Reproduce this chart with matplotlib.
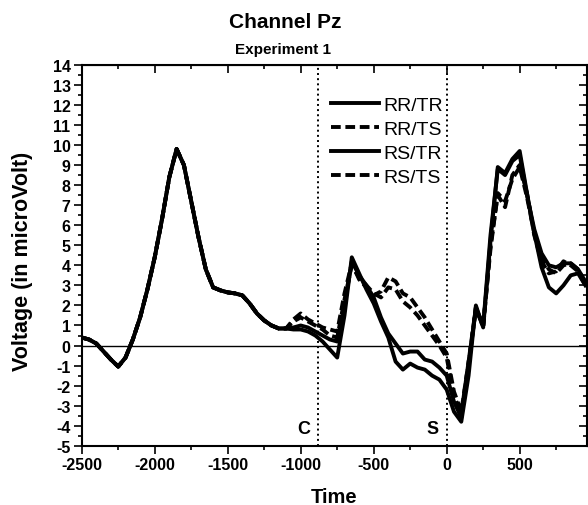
import matplotlib
matplotlib.use('Agg')
import matplotlib.pyplot as plt
from matplotlib.ticker import MultipleLocator

plt.rcParams['font.family'] = ['Liberation Sans', 'DejaVu Sans']
plt.rcParams['font.weight'] = 'bold'
plt.rcParams['axes.unicode_minus'] = False

# time axis (ms), common part before the conditions split
early_time = list(range(-2500, -1100 + 1, 50))
early_vals = [0.4, 0.3, 0.1, -0.3, -0.7, -1.05, -0.6, 0.3, 1.4, 2.8, 4.4, 6.3,
              8.4, 9.8, 9.0, 7.2, 5.4, 3.8, 2.9, 2.75, 2.65, 2.6, 2.5, 2.1,
              1.6, 1.25, 1.0, 0.85, 0.85]

late_time = list(range(-1050, 950 + 1, 50))
rr_tr = [0.9, 1.0, 0.9, 0.7, 0.5, 0.3, 0.2, 2.0, 4.2, 3.5, 3.0, 2.4, 1.4, 0.6,
         0.1, -0.4, -0.3, -0.3, -0.7, -0.8, -1.1, -1.5, -2.8, -3.6, -1.0, 1.9,
         1.0, 5.5, 8.8, 8.5, 9.2, 9.5, 7.5, 5.8, 4.6, 4.0, 3.9, 4.1, 4.1, 3.8, 3.2]
rr_ts = [1.2, 1.4, 1.2, 1.0, 0.8, 0.5, 0.4, 2.3, 4.0, 3.4, 3.0, 2.6, 2.4, 2.9,
         2.8, 2.2, 1.9, 1.5, 1.0, 0.5, 0.0, -0.6, -2.5, -3.4, -0.8, 1.9,
         0.9, 5.0, 7.5, 6.9, 8.5, 9.0, 7.6, 5.5, 4.2, 3.6, 3.7, 4.2, 4.0, 3.7, 3.0]
rs_tr = [0.8, 0.8, 0.7, 0.5, 0.2, -0.2, -0.6, 1.5, 4.4, 3.6, 2.8, 2.1, 1.2, 0.4,
         -0.8, -1.2, -0.9, -1.1, -1.2, -1.5, -1.7, -2.2, -3.3, -3.8, -1.5, 2.0,
         0.9, 5.2, 8.9, 8.6, 9.3, 9.7, 7.6, 5.6, 3.9, 2.9, 2.6, 3.0, 3.5, 3.6, 3.0]
rs_ts = [1.3, 1.6, 1.3, 1.1, 0.9, 0.8, 0.7, 2.6, 4.1, 3.3, 2.9, 2.5, 2.7, 3.4,
         3.2, 2.6, 2.4, 1.9, 1.4, 0.8, 0.2, -0.4, -2.3, -3.3, -0.8, 1.8,
         1.0, 4.8, 7.6, 7.2, 8.3, 8.9, 7.4, 5.6, 4.4, 3.8, 3.6, 4.0, 4.1, 3.8, 3.1]

cue_time = -880
stim_time = 0

time = early_time + late_time
series = [('RR/TR', rr_tr, '-'), ('RR/TS', rr_ts, '--'),
          ('RS/TR', rs_tr, '-'), ('RS/TS', rs_ts, '--')]

fig = plt.figure(figsize=(5.88, 5.06), dpi=100)
ax = fig.add_axes([0.139, 0.117, 0.859, 0.753])

for name, vals, ls in series:
    line, = ax.plot(time, early_vals + vals, color='black', lw=2.8, ls=ls, label=name)
    if ls == '--':
        line.set_dashes((2.5, 1.2))

ax.axhline(0, color='black', lw=1)
ax.axvline(cue_time, color='black', lw=1.4, ls=':')
ax.axvline(stim_time, color='black', lw=1.4, ls=':')
ax.text(-980, -4.15, 'C', fontsize=13, ha='center', va='center')
ax.text(-95, -4.15, 'S', fontsize=13, ha='center', va='center')

ax.set_xlim(-2500, 960)
ax.set_ylim(-5, 14)
ax.xaxis.set_major_locator(MultipleLocator(500))
ax.xaxis.set_minor_locator(MultipleLocator(250))
ax.yaxis.set_major_locator(MultipleLocator(1))
ax.yaxis.set_minor_locator(MultipleLocator(0.5))
ax.tick_params(which='both', direction='out', width=1.2, labelsize=11.5, pad=2)
ax.tick_params(which='major', length=6)
ax.tick_params(which='minor', length=3)
for sp in ax.spines.values():
    sp.set_linewidth(1.5)

# inward ticks on the top and right edges
top = ax.secondary_xaxis('top')
top.xaxis.set_major_locator(MultipleLocator(500))
top.xaxis.set_minor_locator(MultipleLocator(250))
top.tick_params(which='both', direction='in', labeltop=False, width=1.2)
top.tick_params(which='major', length=6)
top.tick_params(which='minor', length=3)
right = ax.secondary_yaxis('right')
right.yaxis.set_major_locator(MultipleLocator(1))
right.yaxis.set_minor_locator(MultipleLocator(0.5))
right.tick_params(which='both', direction='in', labelright=False, width=1.2)
right.tick_params(which='major', length=6)
right.tick_params(which='minor', length=3)

ax.set_xlabel('Time', fontsize=14.5, fontweight='bold', va='top')
ax.xaxis.set_label_coords(0.5, -0.108)
ax.set_ylabel('Voltage (in microVolt)', fontsize=15.5, fontweight='bold')
ax.yaxis.set_label_coords(-0.097, 0.486)

fig.text(0.485, 0.955, 'Channel Pz', fontsize=15, fontweight='bold', ha='center', va='center')
fig.text(0.481, 0.901, 'Experiment 1', fontsize=11, fontweight='bold', ha='center', va='center')

leg = ax.legend(loc='upper left', bbox_to_anchor=(0.493, 0.918), frameon=False,
                fontsize=14, handlelength=2.5, labelspacing=0.33, handletextpad=0.2,
                borderpad=0, borderaxespad=0)
for t in leg.get_texts():
    t.set_fontweight('normal')

fig.savefig('out.png', dpi=100)
